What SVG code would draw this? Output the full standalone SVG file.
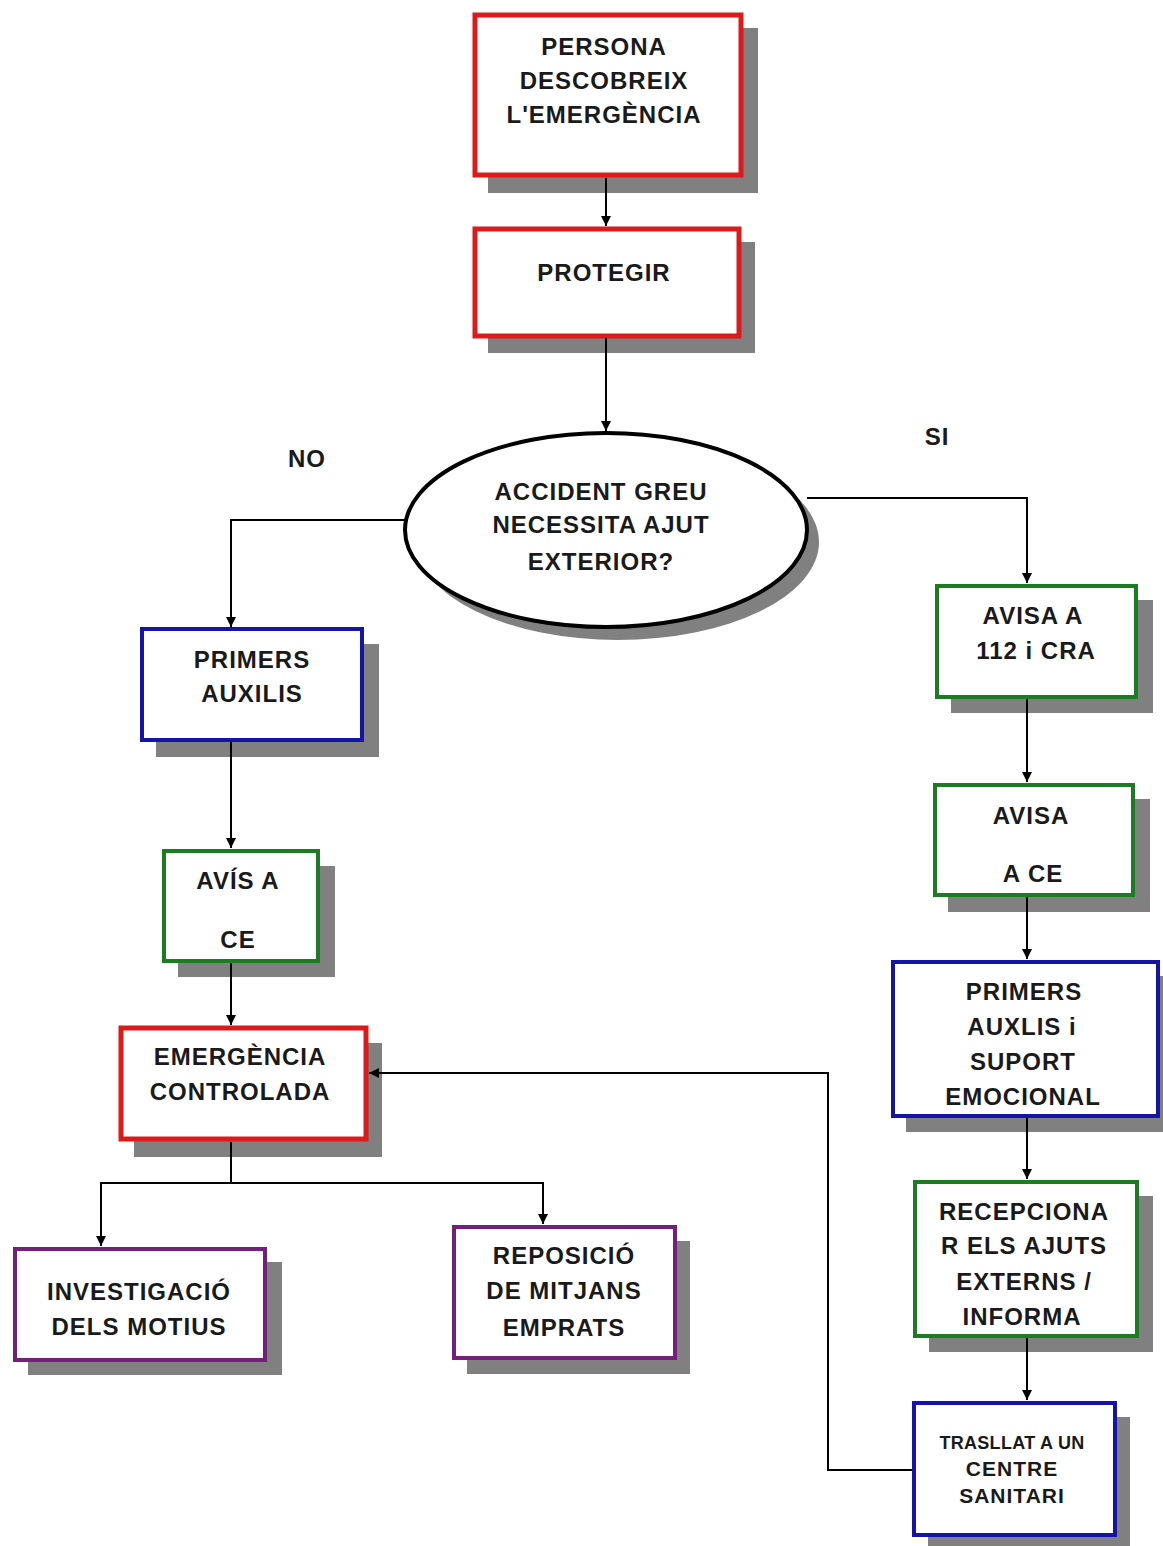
<svg xmlns="http://www.w3.org/2000/svg" width="1163" height="1546" viewBox="0 0 1163 1546">
<style>
.sh{fill:#808080}
.bx{fill:#ffffff}
.red{stroke:#dc1a1a;stroke-width:5}
.blue{stroke:#1414a8;stroke-width:4}
.green{stroke:#1c7c22;stroke-width:4}
.purple{stroke:#74207a;stroke-width:4}
text{font-family:"Liberation Sans",Arial,sans-serif;font-weight:bold;font-size:24px;fill:#1a1a1a;text-anchor:middle;letter-spacing:1px}
.c{fill:none;stroke:#000;stroke-width:2}
</style>
<defs>
<marker id="ah" viewBox="0 0 10 10" refX="10" refY="5" markerWidth="10" markerHeight="10" markerUnits="userSpaceOnUse" orient="auto">
<path d="M0,0 L10,5 L0,10 z" fill="#000"/>
</marker>
</defs>
<rect width="1163" height="1546" fill="#ffffff"/>

<g id="label-no"><text x="307" y="467">NO</text></g>
<g id="label-si"><text x="937" y="445">SI</text></g>

<g id="n-persona">
<rect class="sh" x="488" y="28" width="270" height="165"/>
<rect class="bx red" x="475" y="15" width="266" height="160"/>
<text x="604" y="55">PERSONA</text>
<text x="604" y="89">DESCOBREIX</text>
<text x="604" y="123">L'EMERGÈNCIA</text>
</g>

<g id="n-protegir">
<rect class="sh" x="488" y="242" width="267" height="111"/>
<rect class="bx red" x="475" y="229" width="264" height="107"/>
<text x="604" y="281">PROTEGIR</text>
</g>

<g id="n-accident">
<ellipse class="sh" cx="618" cy="542" rx="201" ry="98"/>
<ellipse cx="606" cy="530" rx="201" ry="97" fill="#ffffff" stroke="#000" stroke-width="4"/>
<text x="601" y="500">ACCIDENT GREU</text>
<text x="601" y="533">NECESSITA AJUT</text>
<text x="601" y="570">EXTERIOR?</text>
</g>

<g id="n-primers">
<rect class="sh" x="156" y="644" width="223" height="113"/>
<rect class="bx blue" x="142" y="629" width="220" height="111"/>
<text x="252" y="668">PRIMERS</text>
<text x="252" y="702">AUXILIS</text>
</g>

<g id="n-avis">
<rect class="sh" x="178" y="866" width="157" height="111"/>
<rect class="bx green" x="164" y="851" width="154" height="110"/>
<text x="238" y="889">AVÍS A</text>
<text x="238" y="948">CE</text>
</g>

<g id="n-emergencia">
<rect class="sh" x="134" y="1043" width="248" height="114"/>
<rect class="bx red" x="121" y="1028" width="245" height="111"/>
<text x="240" y="1065">EMERGÈNCIA</text>
<text x="240" y="1100">CONTROLADA</text>
</g>

<g id="n-investigacio">
<rect class="sh" x="28" y="1262" width="254" height="113"/>
<rect class="bx purple" x="15" y="1249" width="250" height="111"/>
<text x="139" y="1300">INVESTIGACIÓ</text>
<text x="139" y="1335">DELS MOTIUS</text>
</g>

<g id="n-reposicio">
<rect class="sh" x="467" y="1241" width="223" height="133"/>
<rect class="bx purple" x="454" y="1227" width="221" height="131"/>
<text x="564" y="1264">REPOSICIÓ</text>
<text x="564" y="1299">DE MITJANS</text>
<text x="564" y="1336">EMPRATS</text>
</g>

<g id="n-avisa112">
<rect class="sh" x="951" y="600" width="202" height="113"/>
<rect class="bx green" x="937" y="586" width="199" height="111"/>
<text x="1033" y="624">AVISA  A</text>
<text x="1036" y="659">112 i CRA</text>
</g>

<g id="n-avisace">
<rect class="sh" x="948" y="799" width="202" height="113"/>
<rect class="bx green" x="935" y="785" width="198" height="110"/>
<text x="1031" y="824">AVISA</text>
<text x="1033" y="882">A CE</text>
</g>

<g id="n-primers2">
<rect class="sh" x="906" y="976" width="262" height="156"/>
<rect class="bx blue" x="893" y="962" width="265" height="154"/>
<text x="1024" y="1000">PRIMERS</text>
<text x="1022" y="1035">AUXLIS i</text>
<text x="1023" y="1070">SUPORT</text>
<text x="1023" y="1105">EMOCIONAL</text>
</g>

<g id="n-recepciona">
<rect class="sh" x="929" y="1196" width="224" height="156"/>
<rect class="bx green" x="915" y="1182" width="222" height="154"/>
<text x="1024" y="1220">RECEPCIONA</text>
<text x="1024" y="1254">R ELS AJUTS</text>
<text x="1024" y="1290">EXTERNS /</text>
<text x="1022" y="1325">INFORMA</text>
</g>

<g id="n-trasllat">
<rect class="sh" x="928" y="1417" width="202" height="129"/>
<rect class="bx blue" x="914" y="1403" width="201" height="132"/>
<text x="1012" y="1449" style="font-size:18px;letter-spacing:0.3px">TRASLLAT A UN</text>
<text x="1012" y="1476" style="font-size:21px">CENTRE</text>
<text x="1012" y="1503" style="font-size:21px">SANITARI</text>
</g>

<g id="connectors">
<path class="c" d="M606,178 V226" marker-end="url(#ah)"/>
<path class="c" d="M606,338 V431" marker-end="url(#ah)"/>
<path class="c" d="M405,520 H231 V627" marker-end="url(#ah)"/>
<path class="c" d="M807,498 H1027 V583" marker-end="url(#ah)"/>
<path class="c" d="M231,742 V848" marker-end="url(#ah)"/>
<path class="c" d="M231,963 V1025" marker-end="url(#ah)"/>
<path class="c" d="M231,1142 V1183 H101 V1246" marker-end="url(#ah)"/>
<path class="c" d="M231,1183 H543 V1224" marker-end="url(#ah)"/>
<path class="c" d="M1027,699 V782" marker-end="url(#ah)"/>
<path class="c" d="M1027,897 V959" marker-end="url(#ah)"/>
<path class="c" d="M1027,1118 V1179" marker-end="url(#ah)"/>
<path class="c" d="M1027,1338 V1400" marker-end="url(#ah)"/>
<path class="c" d="M912,1470 H828 V1073 H369" marker-end="url(#ah)"/>
</g>
</svg>
